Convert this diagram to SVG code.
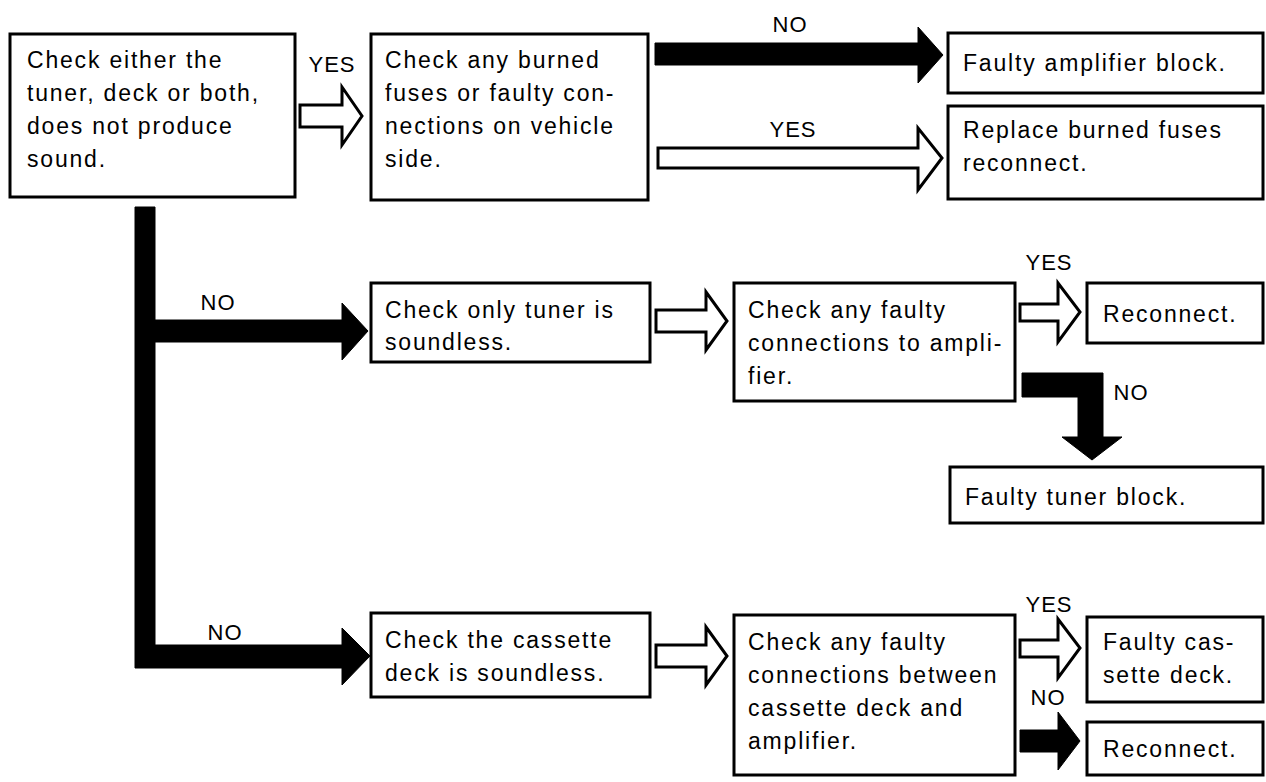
<svg xmlns="http://www.w3.org/2000/svg" width="1266" height="782" viewBox="0 0 1266 782">
<style>
.box{fill:#fff;stroke:#000;stroke-width:3}
.t{font-family:"Liberation Sans",Arial,sans-serif;font-size:23px;letter-spacing:1.8px;fill:#000}
.lbl{font-family:"Liberation Sans",Arial,sans-serif;font-size:22px;letter-spacing:1px;fill:#000;text-anchor:middle}
.solid{fill:#000;stroke:#000;stroke-width:1}
.hollow{fill:#fff;stroke:#000;stroke-width:3;stroke-linejoin:miter}
</style>
<rect width="1266" height="782" fill="#fff"/>
<g id="connectors">
<path class="hollow" d="M300,105 H342 V87 L362,116 L342,145 V127 H300 Z"/>
<path class="solid" d="M655,43 H918 V27 L943,55 L918,83 V65 H655 Z"/>
<path class="hollow" d="M658,148 H918 V128 L942,158 L918,190 V168 H658 Z"/>
<path class="solid" d="M135,207 H155 V320 H342 V303 L368,331 L342,360 V342 H155 V645 H342 V628 L370,656 L342,685 V668 H135 Z"/>
<path class="hollow" d="M656,310 H706 V292 L727,321 L706,350 V332 H656 Z"/>
<path class="hollow" d="M1020,304 H1058 V283 L1080,312 L1058,342 V321 H1020 Z"/>
<path class="solid" d="M1022,373 H1103 V437 H1122 L1092,460 L1062,437 H1078 V397 H1022 Z"/>
<path class="hollow" d="M656,645 H706 V627 L727,656 L706,685 V667 H656 Z"/>
<path class="hollow" d="M1020,640 H1058 V619 L1080,648 L1058,678 V657 H1020 Z"/>
<path class="solid" d="M1020,730 H1058 V712 L1080,741 L1058,770 V752 H1020 Z"/>
<text class="lbl" x="332" y="72">YES</text>
<text class="lbl" x="790" y="32">NO</text>
<text class="lbl" x="793" y="137">YES</text>
<text class="lbl" x="218" y="310">NO</text>
<text class="lbl" x="1049" y="270">YES</text>
<text class="lbl" x="1131" y="400">NO</text>
<text class="lbl" x="225" y="640">NO</text>
<text class="lbl" x="1049" y="612">YES</text>
<text class="lbl" x="1048" y="705">NO</text>
</g>
<g id="n1"><rect class="box" x="10" y="34" width="285" height="163"/>
<text class="t" x="27" y="68">Check either the</text><text class="t" x="27" y="101">tuner, deck or both,</text><text class="t" x="27" y="134">does not produce</text><text class="t" x="27" y="167">sound.</text></g>
<g id="n2"><rect class="box" x="371" y="34" width="277" height="166"/>
<text class="t" x="385" y="68">Check any burned</text><text class="t" x="385" y="101">fuses or faulty con-</text><text class="t" x="385" y="134">nections on vehicle</text><text class="t" x="385" y="167">side.</text></g>
<g id="n3"><rect class="box" x="948" y="33" width="315" height="60"/>
<text class="t" x="963" y="71">Faulty amplifier block.</text></g>
<g id="n4"><rect class="box" x="948" y="106" width="315" height="93"/>
<text class="t" x="963" y="138">Replace burned fuses</text><text class="t" x="963" y="171">reconnect.</text></g>
<g id="n5"><rect class="box" x="371" y="283" width="279" height="79"/>
<text class="t" x="385" y="318">Check only tuner is</text><text class="t" x="385" y="350">soundless.</text></g>
<g id="n6"><rect class="box" x="734" y="283" width="281" height="118"/>
<text class="t" x="748" y="318">Check any faulty</text><text class="t" x="748" y="351">connections to ampli-</text><text class="t" x="748" y="384">fier.</text></g>
<g id="n7"><rect class="box" x="1087" y="283" width="176" height="60"/>
<text class="t" x="1103" y="322">Reconnect.</text></g>
<g id="n8"><rect class="box" x="950" y="467" width="313" height="56"/>
<text class="t" x="965" y="505">Faulty tuner block.</text></g>
<g id="n9"><rect class="box" x="371" y="613" width="279" height="84"/>
<text class="t" x="385" y="648">Check the cassette</text><text class="t" x="385" y="681">deck is soundless.</text></g>
<g id="n10"><rect class="box" x="734" y="615" width="281" height="160"/>
<text class="t" x="748" y="650">Check any faulty</text><text class="t" x="748" y="683">connections between</text><text class="t" x="748" y="716">cassette deck and</text><text class="t" x="748" y="749">amplifier.</text></g>
<g id="n11"><rect class="box" x="1087" y="617" width="176" height="85"/>
<text class="t" x="1103" y="650">Faulty cas-</text><text class="t" x="1103" y="683">sette deck.</text></g>
<g id="n12"><rect class="box" x="1087" y="722" width="176" height="53"/>
<text class="t" x="1103" y="757">Reconnect.</text></g>
</svg>
